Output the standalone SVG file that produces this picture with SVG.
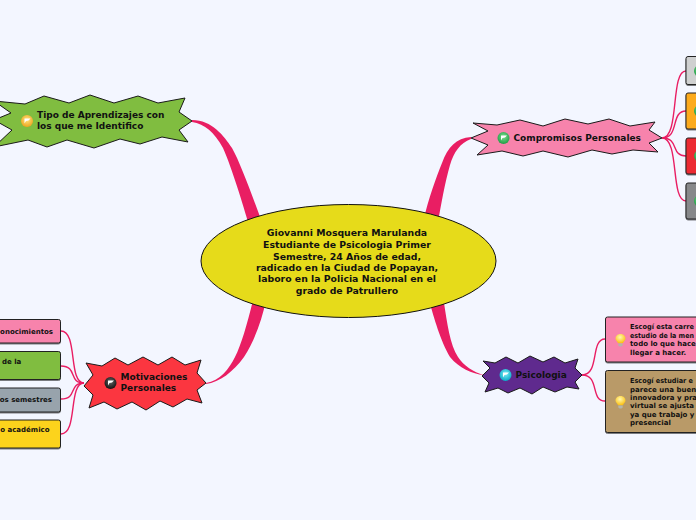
<svg xmlns="http://www.w3.org/2000/svg" width="696" height="520" viewBox="0 0 696 520">
<style>
text{font-family:"DejaVu Sans",Verdana,sans-serif;font-weight:700;fill:#111}
.main{font-size:9.33px;text-anchor:middle}
.b{font-size:9px}
.s{font-size:7px}
.n{stroke:#1a1a1a;stroke-width:1;stroke-linejoin:miter}
.box{stroke:#222;stroke-width:1;filter:url(#sh)}
.c{fill:none;stroke:#e91e63;stroke-width:1.4}
.t{fill:#e91e63;stroke:none}
</style>
<defs>
<filter id="sh" x="-10%" y="-10%" width="120%" height="130%"><feDropShadow dx="0" dy="1" stdDeviation="0.6" flood-color="#000" flood-opacity=".5"/></filter>
<radialGradient id="gy" cx=".5" cy=".4" r=".6"><stop offset="0" stop-color="#ffe680"/><stop offset="1" stop-color="#eda41e"/></radialGradient>
<radialGradient id="gk" cx=".5" cy=".4" r=".6"><stop offset="0" stop-color="#666"/><stop offset="1" stop-color="#111"/></radialGradient>
<radialGradient id="gg" cx=".5" cy=".4" r=".6"><stop offset="0" stop-color="#7fe08f"/><stop offset="1" stop-color="#1f9d45"/></radialGradient>
<radialGradient id="gc" cx=".5" cy=".4" r=".6"><stop offset="0" stop-color="#7ff0f5"/><stop offset="1" stop-color="#08a8c8"/></radialGradient>
<radialGradient id="gb" cx=".45" cy=".35" r=".65"><stop offset="0" stop-color="#fff9b0"/><stop offset="1" stop-color="#fbbf10"/></radialGradient>
<g id="flag"><path d="M-3,-2.500 L3,-2.500 L1,-0.500 L-1.500,0 L-3,2.500Z" fill="#fff"/></g>
<g id="bulb"><path d="M0,-6 C3.400,-6 5,-3.600 5,-1.600 C5,.6 2.800,1.500 2.400,3.200 L-2.400,3.200 C-2.800,1.500 -5,.6 -5,-1.600 C-5,-3.600 -3.400,-6 0,-6Z" fill="url(#gb)"/><path d="M-2.200,3.400 H2.200 V5.600 L1,6.600 H-1 L-2.200,5.600Z" fill="#b5b5a8"/></g>
</defs>
<rect width="696" height="520" fill="#f3f6ff"/>
<g id="connectors">
<path class="t" d="M192,120 C212,120 224,136 232,148 C240,162 252,195 263,225 L249,225 C243,205 232,168 223,148 C214,132 205,124 192,122Z"/>
<path class="t" d="M471,137 C456,138 448,147 442,163 C436,178 429,197 423,222 L438,222 C441,205 445,182 450,165 C454,152 460,143 471,139Z"/>
<path class="t" d="M206,383 C220,381 229,369 235,357 C241,345 247,325 253,300 L266,300 C262,320 254,342 244,357 C233,372 220,382 206,384Z"/>
<path class="t" d="M430,303 C433,315 441,342 450,357 C459,368 472,374 484,375 C473,372 464,366 458,357 C450,345 447,322 444,303Z"/>
<path class="c" d="M662,138 C680,138 670,71 686,71"/>
<path class="c" d="M662,138 C680,138 670,111 686,111"/>
<path class="c" d="M662,138 C680,138 670,156 686,156"/>
<path class="c" d="M662,138 C680,138 670,201 686,201"/>
<path class="c" d="M582,375 C600,375 590,339 605,339"/>
<path class="c" d="M582,375 C600,375 590,401 605,401"/>
<path class="c" d="M84,383 C68,383 78,331 61,331"/>
<path class="c" d="M84,383 C68,383 78,366 61,366"/>
<path class="c" d="M84,383 C68,383 78,399 61,399"/>
<path class="c" d="M84,383 C68,383 78,434 61,434"/>
</g>
<g id="center">
<ellipse cx="348.500" cy="261" rx="147.500" ry="56.500" fill="#e6db1a" stroke="#111" stroke-width="1"/>
<text class="main"><tspan x="347" y="236">Giovanni Mosquera Marulanda</tspan><tspan x="347" y="248">Estudiante de Psicologia Primer</tspan><tspan x="347" y="259.500">Semestre, 24 Años de edad,</tspan><tspan x="347" y="271">radicado en la Ciudad de Popayan,</tspan><tspan x="347" y="282">laboro en la Policia Nacional en el</tspan><tspan x="347" y="294">grado de Patrullero</tspan></text>
</g>
<g id="tipo">
<polygon class="n" fill="#80bd40" points="-6,101 25,104 44,96 69,103 90,95 114,103 138,96 158,103 185,98 179,112 192,121 179,130 188,142 162,137 140,144 120,139 94,148 67,140 47,147 28,140 -6,147 12,130 -6,120 11,113"/>
<circle cx="27" cy="121" r="6" fill="url(#gy)"/><use href="#flag" x="27.500" y="121"/>
<text class="b"><tspan x="37" y="118">Tipo de Aprendizajes con</tspan><tspan x="37" y="129">los que me Identifico</tspan></text>
</g>
<g id="motivaciones">
<polygon class="n" fill="#fb3640" points="86,363 102,366 115,358 128,365 143,357 158,365 172,357 185,365 201,360 197,373 206,383 197,390 202,403 187,399 173,407 160,401 146,410 132,402 117,409 104,402 89,408 93,395 84,386 93,375"/>
<circle cx="110.500" cy="383" r="6" fill="url(#gk)"/><use href="#flag" x="111" y="383"/>
<text class="b"><tspan x="120.500" y="380">Motivaciones</tspan><tspan x="120.500" y="391">Personales</tspan></text>
</g>
<g id="compromisos">
<polygon class="n" fill="#f783ac" points="473,123 497,125 520,120 543,126 565,119 588,124 609,119 630,126 655,122 649,130 662,138 649,143 658,152 633,150 612,154 592,150 568,157 543,151 523,156 502,151 477,155 488,145 471,138 488,131"/>
<circle cx="503.500" cy="138" r="6" fill="url(#gg)"/><use href="#flag" x="504" y="138"/>
<text class="b" x="513.500" y="141">Compromisos Personales</text>
</g>
<g id="psicologia">
<polygon class="n" fill="#5f2a8e" points="483,361 495,363 506,357 518,363 530,356 543,362 554,357 565,363 578,359 575,368 582,375 575,382 579,389 567,387 555,392 543,387 532,394 520,388 508,393 498,388 485,392 489,383 482,376 490,368"/>
<circle cx="505.500" cy="375" r="6" fill="url(#gc)"/><use href="#flag" x="506" y="375"/>
<text class="b" x="515.500" y="378">Psicologia</text>
</g>
<g id="c1"><rect class="box" x="686" y="56.500" width="30" height="28" rx="2" fill="#cfd0d0"/><circle cx="700" cy="71" r="6" fill="url(#gg)"/></g>
<g id="c2"><rect class="box" x="686" y="93" width="30" height="36" rx="2" fill="#fcaa1f"/><circle cx="700" cy="111" r="6" fill="url(#gg)"/></g>
<g id="c3"><rect class="box" x="686" y="138" width="30" height="36" rx="2" fill="#ec2a32"/><circle cx="700" cy="156" r="6" fill="url(#gg)"/></g>
<g id="c4"><rect class="box" x="686" y="183" width="30" height="36" rx="2" fill="#87888a"/><circle cx="700" cy="201" r="6" fill="url(#gg)"/></g>
<g id="p1"><rect class="box" x="605.500" y="317" width="110" height="45" rx="2" fill="#f783ac"/><use href="#bulb" x="620.500" y="340"/>
<text class="s" x="630" y="329" textLength="64" lengthAdjust="spacingAndGlyphs">Escogí esta carre</text>
<text class="s" x="630" y="337.500" textLength="64" lengthAdjust="spacingAndGlyphs">estudio de la men</text>
<text class="s"><tspan x="630" y="346">todo lo que hace</tspan><tspan x="630" y="354.500">llegar a hacer.</tspan></text></g>
<g id="p2"><rect class="box" x="605.500" y="370.500" width="110" height="62" rx="2" fill="#b99a68"/><use href="#bulb" x="620.500" y="402"/>
<text class="s" x="630" y="383" textLength="63" lengthAdjust="spacingAndGlyphs">Escogí estudiar e</text>
<text class="s"><tspan x="630" y="391.500">parece una buen</tspan><tspan x="630" y="400">innovadora y pra</tspan><tspan x="630" y="408">virtual se ajusta</tspan><tspan x="630" y="416.500">ya que trabajo y</tspan><tspan x="630" y="425">presencial</tspan></text></g>
<g id="m1"><rect class="box" x="-20" y="319.500" width="80.500" height="23.500" rx="2" fill="#f783ac"/><text class="s" x="53" y="334" text-anchor="end">onocimientos</text></g>
<g id="m2"><rect class="box" x="-20" y="351.500" width="80.500" height="28" rx="2" fill="#80bd40"/><text class="s" x="2" y="363.500">de la</text></g>
<g id="m3"><rect class="box" x="-20" y="388" width="80.500" height="24" rx="2" fill="#98a3ac"/><text class="s" x="52" y="402" text-anchor="end">os semestres</text></g>
<g id="m4"><rect class="box" x="-20" y="420" width="80.500" height="28" rx="2" fill="#fcd31a"/><text class="s" x="49.500" y="432" text-anchor="end">o académico</text></g>
</svg>
